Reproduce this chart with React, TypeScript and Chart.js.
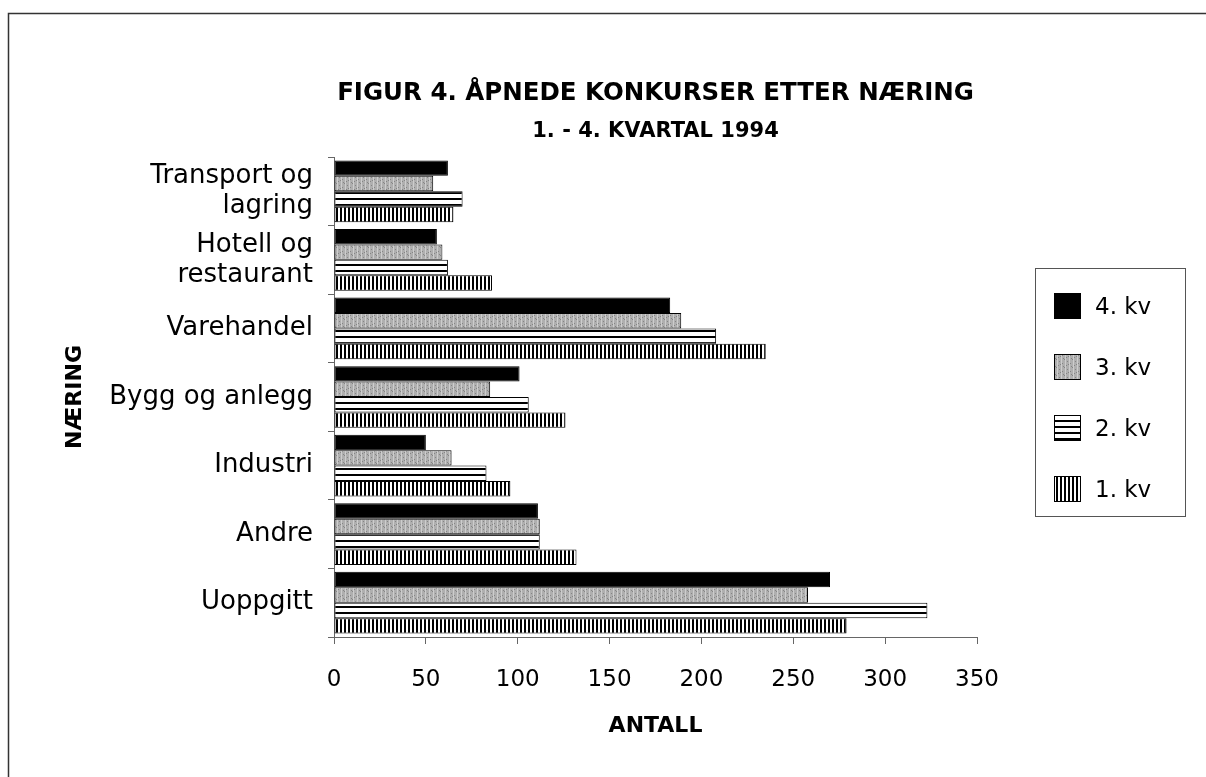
import { useEffect, useRef } from 'react';
import { Chart, registerables } from 'chart.js';

Chart.register(...registerables);

// ---- data ----
const categories: (string | string[])[] = [
  ['Transport og', 'lagring'],
  ['Hotell og', 'restaurant'],
  'Varehandel',
  'Bygg og anlegg',
  'Industri',
  'Andre',
  'Uoppgitt',
];
const seriesLabels = ['4. kv', '3. kv', '2. kv', '1. kv'];
const kv4 = [62, 56, 183, 101, 50, 111, 270];
const kv3 = [54, 59, 189, 85, 64, 112, 258];
const kv2 = [70, 62, 208, 106, 83, 112, 323];
const kv1 = [65, 86, 235, 126, 96, 132, 279];
const xTickValues = [0, 50, 100, 150, 200, 250, 300, 350];
const titleText = 'FIGUR 4. ÅPNEDE KONKURSER ETTER NÆRING';
const subtitleText = '1. - 4. KVARTAL 1994';
const xTitleText = 'ANTALL';
const yTitleText = 'NÆRING';

const W = 1206;
const H = 777;
const PLOT_LEFT = 334;
const PLOT_RIGHT = 977;
const PLOT_TOP = 157;
const PLOT_BOTTOM = 637;

function makePattern(kind: string): CanvasPattern | string {
  const c = document.createElement('canvas');
  const ctx = c.getContext('2d')!;
  if (kind === 'solid') return '#000000';
  if (kind === 'stipple') {
    c.width = 8; c.height = 8;
    ctx.fillStyle = '#afafaf';
    ctx.fillRect(0, 0, 8, 8);
    ctx.fillStyle = '#cdcdcd';
    ctx.fillRect(1, 0, 1, 8);
    ctx.fillRect(5, 0, 1, 8);
    ctx.fillStyle = '#858585';
    const dots = [[3, 1], [6, 3], [2, 5], [7, 6], [0, 7], [4, 4]];
    dots.forEach(([x, y]) => ctx.fillRect(x, y, 1, 1));
    return ctx.createPattern(c, 'repeat')!;
  }
  if (kind === 'hlines') {
    c.width = 4; c.height = 6;
    ctx.fillStyle = '#ffffff';
    ctx.fillRect(0, 0, 4, 6);
    ctx.fillStyle = '#000000';
    ctx.fillRect(0, 0, 4, 2);
    return ctx.createPattern(c, 'repeat')!;
  }
  c.width = 4; c.height = 4;
  ctx.fillStyle = '#ffffff';
  ctx.fillRect(0, 0, 4, 4);
  ctx.fillStyle = '#000000';
  ctx.fillRect(0, 0, 2, 4);
  return ctx.createPattern(c, 'repeat')!;
}

export default function App() {
  const ref = useRef<HTMLCanvasElement | null>(null);

  useEffect(() => {
    const canvas = ref.current;
    if (!canvas) return;
    const fills = [makePattern('solid'), makePattern('stipple'), makePattern('hlines'), makePattern('vlines')];
    const values = [kv4, kv3, kv2, kv1];

    const decor = {
      id: 'decor',
      beforeDraw(chart: any) {
        const ctx = chart.ctx as CanvasRenderingContext2D;
        ctx.save();
        ctx.fillStyle = '#ffffff';
        ctx.fillRect(0, 0, W, H);
        ctx.strokeStyle = '#333333';
        ctx.lineWidth = 1.5;
        ctx.beginPath();
        ctx.moveTo(8.5, H);
        ctx.lineTo(8.5, 13.5);
        ctx.lineTo(W, 13.5);
        ctx.stroke();
        ctx.restore();
      },
      afterDraw(chart: any) {
        const ctx = chart.ctx as CanvasRenderingContext2D;
        const area = chart.chartArea;
        const cx = (area.left + area.right) / 2;
        ctx.save();
        ctx.fillStyle = '#000000';
        ctx.textAlign = 'center';
        ctx.textBaseline = 'middle';
        ctx.font = 'bold 24.5px "DejaVu Sans"';
        ctx.fillText(titleText, cx, 94);
        ctx.font = 'bold 21px "DejaVu Sans"';
        ctx.fillText(subtitleText, cx, 132);
        ctx.font = 'bold 22px "DejaVu Sans"';
        ctx.fillText(xTitleText, cx, 726);
        ctx.save();
        ctx.translate(75, 397);
        ctx.rotate(-Math.PI / 2);
        ctx.fillText(yTitleText, 0, 0);
        ctx.restore();

        const lx = 1035, ly = 268, lw = 150, lh = 248;
        ctx.strokeStyle = '#555555';
        ctx.lineWidth = 1;
        ctx.strokeRect(lx + 0.5, ly + 0.5, lw, lh);
        ctx.textAlign = 'left';
        ctx.font = '23px "DejaVu Sans"';
        const ys = [306, 367, 428, 489];
        chart.data.datasets.forEach((ds: any, i: number) => {
          const y = ys[i];
          ctx.fillStyle = ds.backgroundColor;
          ctx.fillRect(1054, y - 13, 27, 26);
          ctx.strokeStyle = '#000000';
          ctx.strokeRect(1054.5, y - 12.5, 26, 25);
          ctx.fillStyle = '#000000';
          ctx.fillText(ds.label, 1095, y + 2);
        });
        ctx.restore();
      },
    };

    const chart = new Chart(canvas, {
      type: 'bar',
      data: {
        labels: categories as any,
        datasets: seriesLabels.map((label, i) => ({
          label,
          data: values[i],
          backgroundColor: fills[i] as any,
          borderColor: '#000000',
          borderWidth: 1,
          borderSkipped: false,
          categoryPercentage: 0.9,
          barPercentage: 1.0,
        })),
      },
      options: {
        indexAxis: 'y',
        responsive: false,
        animation: false,
        devicePixelRatio: 1,
        layout: { padding: { top: PLOT_TOP, right: W - PLOT_RIGHT, bottom: 0, left: 0 } },
        plugins: {
          legend: { display: false },
          title: { display: false },
          tooltip: { enabled: false },
        },
        scales: {
          x: {
            type: 'linear',
            min: 0,
            max: 350,
            afterBuildTicks: (scale: any) => {
              scale.ticks = xTickValues.map((v) => ({ value: v }));
            },
            afterFit: (scale: any) => {
              scale.height = H - PLOT_BOTTOM;
            },
            grid: { drawOnChartArea: false, drawTicks: true, tickLength: 7, color: '#666666' },
            border: { display: true, color: '#666666', width: 1 },
            ticks: {
              color: '#000000',
              padding: 22,
              font: { family: '"DejaVu Sans"', size: 23 },
            },
          },
          y: {
            type: 'category',
            afterFit: (scale: any) => {
              scale.width = PLOT_LEFT;
            },
            grid: { drawOnChartArea: false, drawTicks: true, tickLength: 6, color: '#666666', offset: true },
            border: { display: true, color: '#666666', width: 1 },
            ticks: {
              color: '#000000',
              padding: 15,
              font: { family: '"DejaVu Sans"', size: 26, lineHeight: 1.15 },
            },
          },
        },
      },
      plugins: [decor],
    });

    return () => chart.destroy();
  }, []);

  return (
    <div style={{ position: 'fixed', left: 0, top: 0, width: W, height: H, background: '#fff' }}>
      <canvas ref={ref} width={W} height={H} style={{ width: W, height: H, display: 'block' }} />
    </div>
  );
}
